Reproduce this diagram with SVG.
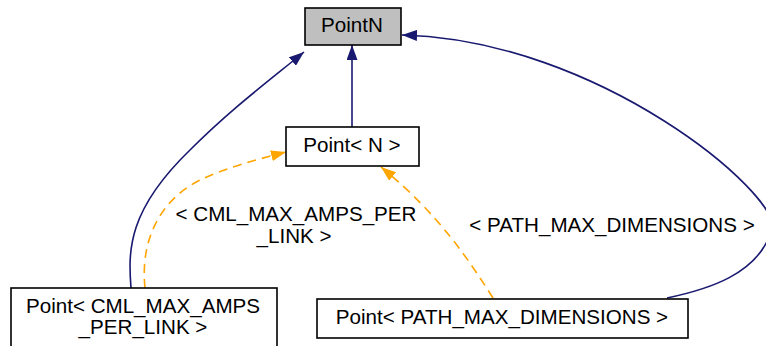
<svg xmlns="http://www.w3.org/2000/svg" width="766" height="346" viewBox="0 0 766 346">
<style>
.box{fill:#ffffff;stroke:#000000;stroke-width:1.6}
.root{fill:#bfbfbf;stroke:#000000;stroke-width:1.6}
text{font-family:"Liberation Sans",Arial,sans-serif;font-size:20.6px;fill:#000000;text-anchor:middle}
.inh{fill:none;stroke:#191970;stroke-width:1.6}
.tpl{fill:none;stroke:#ffa500;stroke-width:1.6;stroke-dasharray:9,6}
</style>
<defs>
<marker id="an" viewBox="0 0 15 11" refX="15" refY="5.5" markerWidth="15" markerHeight="11" markerUnits="userSpaceOnUse" orient="auto">
<path d="M0,0 L15,5.5 L0,11 z" fill="#191970"/>
</marker>
<marker id="ao" viewBox="0 0 15 11" refX="15" refY="5.5" markerWidth="15" markerHeight="11" markerUnits="userSpaceOnUse" orient="auto">
<path d="M0,0 L15,5.5 L0,11 z" fill="#ffa500"/>
</marker>
</defs>
<g id="edges">
<path class="inh" d="M352,127 L352,45" marker-end="url(#an)"/>
<path class="inh" d="M131,288 C128,250 128,210 190,150 C232,108 270,80 304,52" marker-end="url(#an)"/>
<path class="inh" d="M667,298 C705,290 760,275 772,228 C780,195 600,40 402,35" marker-end="url(#an)"/>
<path class="tpl" d="M145,288 C140,240 160,200 200,180 C225,168 255,160 286,152" marker-end="url(#ao)"/>
<path class="tpl" d="M493,298 C470,262 440,215 381,167" marker-end="url(#ao)"/>
<text x="296" y="221">&lt; CML_MAX_AMPS_PER</text>
<text x="294" y="243">_LINK &gt;</text>
<text x="612" y="232">&lt; PATH_MAX_DIMENSIONS &gt;</text>
</g>
<g id="PointN">
<rect class="root" x="305" y="8" width="96" height="37"/>
<text x="352" y="32">PointN</text>
</g>
<g id="PointNT">
<rect class="box" x="286" y="127" width="133" height="39"/>
<text x="352" y="152">Point&lt; N &gt;</text>
</g>
<g id="PointCML">
<rect class="box" x="11" y="288" width="266" height="64"/>
<text x="143" y="313">Point&lt; CML_MAX_AMPS</text>
<text x="143" y="334">_PER_LINK &gt;</text>
</g>
<g id="PointPATH">
<rect class="box" x="317" y="299" width="371" height="39"/>
<text x="502" y="324">Point&lt; PATH_MAX_DIMENSIONS &gt;</text>
</g>
</svg>
